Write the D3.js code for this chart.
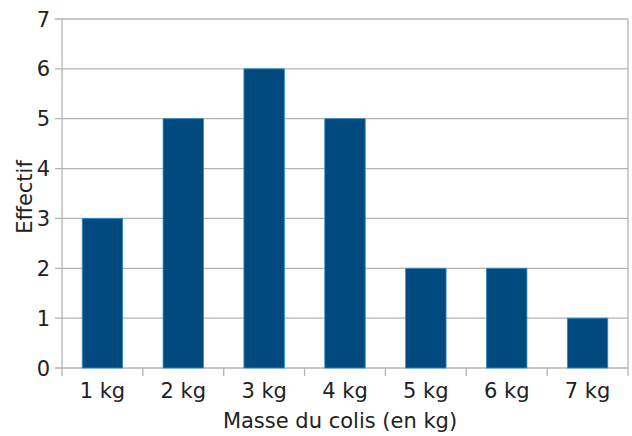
<!DOCTYPE html>
<html lang="fr">
<head>
<meta charset="UTF-8" />
<script src="https://d3js.org/d3.v7.min.js"></script>
<style>
  body { margin: 0; background: #fff; }
</style>
</head>
<body>
<script>
var categories = ["1 kg", "2 kg", "3 kg", "4 kg", "5 kg", "6 kg", "7 kg"];
var effectif = [3, 5, 6, 5, 2, 2, 1];
var yTicks = [0, 1, 2, 3, 4, 5, 6, 7];

var W = 632, H = 436;
var margin = {top: 19, right: 4, bottom: 68, left: 62};
var width = W - margin.left - margin.right;
var height = H - margin.top - margin.bottom;
var FONT = "DejaVu Sans", FS = 21;

var svg = d3.select("body").append("svg").attr("width", W).attr("height", H)
  .attr("font-family", FONT).attr("font-size", FS).attr("fill", "#222");
var g = svg.append("g").attr("transform", "translate(" + margin.left + "," + margin.top + ")");

var x = d3.scaleBand().domain(categories).range([0, width]).paddingInner(0.5).paddingOuter(0.25);
var xOuter = d3.scaleBand().domain(categories).range([0, width]);
var y = d3.scaleLinear().domain([0, 7]).range([height, 0]);

// grid lines + y ticks
g.selectAll(".grid").data(yTicks).enter().append("line")
  .attr("x1", -7).attr("x2", width)
  .attr("y1", function(d){ return y(d); }).attr("y2", function(d){ return y(d); })
  .attr("stroke", "#b4b4b4").attr("stroke-width", 1.3);

g.selectAll(".ylab").data(yTicks).enter().append("text")
  .attr("x", -12).attr("y", function(d){ return y(d); })
  .attr("dy", "0.36em").attr("text-anchor", "end")
  .text(function(d){ return d; });

// left & right frame lines
g.append("line").attr("x1", 0).attr("x2", 0).attr("y1", 0).attr("y2", height + 8)
  .attr("stroke", "#b4b4b4").attr("stroke-width", 1.3);
g.append("line").attr("x1", width).attr("x2", width).attr("y1", 0).attr("y2", height + 8)
  .attr("stroke", "#b4b4b4").attr("stroke-width", 1.3);

// category separators on x axis
g.selectAll(".xtick").data(categories.slice(1)).enter().append("line")
  .attr("x1", function(d){ return xOuter(d); }).attr("x2", function(d){ return xOuter(d); })
  .attr("y1", height).attr("y2", height + 8)
  .attr("stroke", "#b4b4b4").attr("stroke-width", 1.3);

// bars
g.selectAll(".bar").data(effectif).enter().append("rect")
  .attr("x", function(d, i){ return x(categories[i]); })
  .attr("y", function(d){ return y(d); })
  .attr("width", x.bandwidth())
  .attr("height", function(d){ return height - y(d); })
  .attr("fill", "#004a7f")
  .attr("stroke", "#2a8fc4").attr("stroke-width", 0.8);

g.selectAll(".xlab").data(categories).enter().append("text")
  .attr("x", function(d){ return xOuter(d) + xOuter.bandwidth() / 2; })
  .attr("y", height + 30).attr("text-anchor", "middle")
  .text(function(d){ return d; });

svg.append("text").attr("x", margin.left + width / 2 - 5).attr("y", 428)
  .attr("text-anchor", "middle")
  .text("Masse du colis (en kg)");

svg.append("text").attr("transform", "translate(32,197) rotate(-90)")
  .attr("text-anchor", "middle")
  .text("Effectif");
</script>
</body>
</html>
